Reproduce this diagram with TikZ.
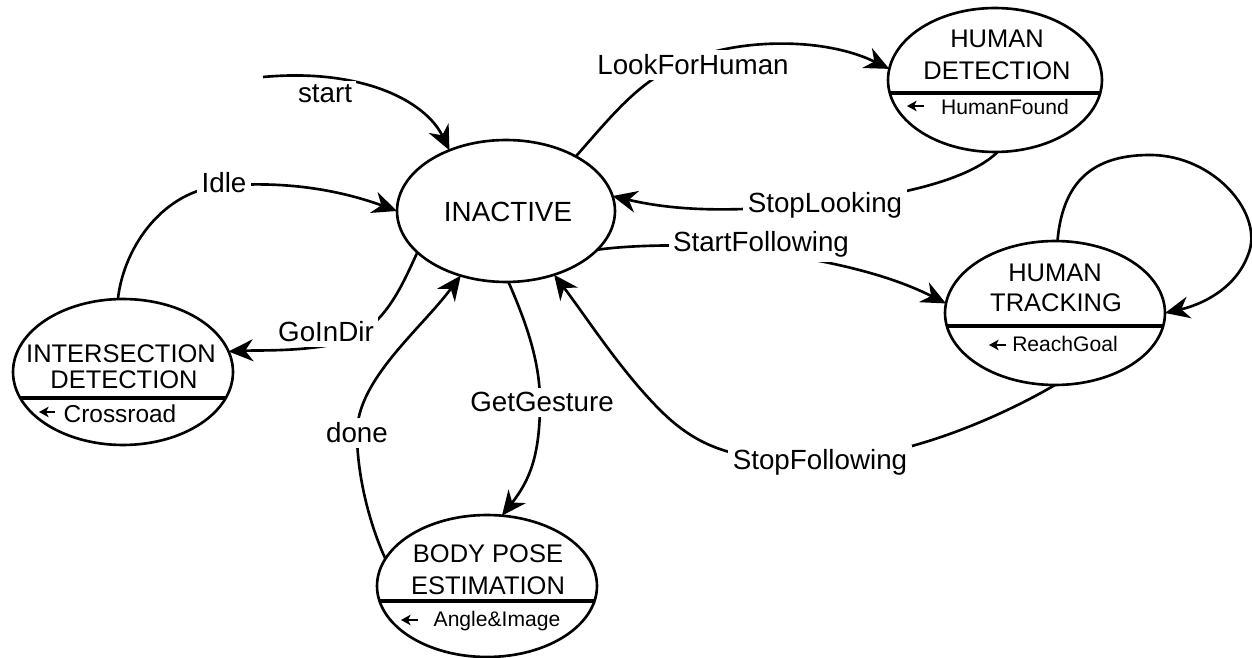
\documentclass[tikz,border=0pt]{standalone}
\usepackage{fontspec}
\setmainfont{Liberation Sans}
\usetikzlibrary{arrows.meta,shapes.geometric}
\newcommand\statefont{\fontsize{14.5}{17}\selectfont}
\newcommand\bigfont{\fontsize{15.8}{19}\selectfont}
\newcommand\subfont{\fontsize{12}{14}\selectfont}
\newcommand\crossfont{\fontsize{13.9}{16}\selectfont}
\begin{document}
\begin{tikzpicture}[x=0.02cm, y=-0.02cm,
  state/.style={draw, ellipse, line width=1.5pt, inner sep=0pt, outer sep=0pt},
  edge/.style={line width=1.5pt, -{Stealth[length=14pt,width=12.5pt,inset=4.5pt]}},
  lbl/.style={fill=white, inner sep=2.5pt, anchor=base, font=\bigfont},
  title/.style={inner sep=0pt, anchor=base, font=\statefont},
  sub/.style={inner sep=0pt, anchor=base, font=\subfont},
  divider/.style={line width=2.4pt},
  subarrow/.style={line width=1pt, -{Stealth[length=5.5pt,width=6pt,inset=1.5pt]}}
]
\useasboundingbox (0,0) rectangle (1252,658);

% states
\node[state, minimum width=4.36cm, minimum height=2.84cm] (inact) at (506,211) {};
\node[state, minimum width=4.28cm, minimum height=2.88cm] (det) at (995,80) {};
\node[state, minimum width=4.40cm, minimum height=2.88cm] (trk) at (1055,313) {};
\node[state, minimum width=4.40cm, minimum height=2.92cm] (inter) at (123,372) {};
\node[state, minimum width=4.40cm, minimum height=2.84cm] (body) at (487,586) {};

% state names
\node[title, font=\bigfont] (inact-t) at (508,222) {INACTIVE};
\node[title] (det-t1) at (997,48) {HUMAN};
\node[title] (det-t2) at (997,80) {DETECTION};
\node[title] (trk-t1) at (1055,282) {HUMAN};
\node[title] (trk-t2) at (1056,312) {TRACKING};
\node[title] (inter-t1) at (121,363) {INTERSECTION};
\node[title] (inter-t2) at (124,389) {DETECTION};
\node[title] (body-t1) at (488,563) {BODY POSE};
\node[title] (body-t2) at (488,595) {ESTIMATION};

% dividers and outgoing events
\draw[divider] (det.-7) -- (det.187);
\draw[divider] (trk.-7) -- (trk.187);
\draw[divider] (inter.-14) -- (inter.194);
\draw[divider] (body.-8) -- (body.188);

\node[sub] (det-s) at (1005,115) {HumanFound};
\node[sub] (trk-s) at (1065,352) {ReachGoal};
\node[sub, font=\crossfont] (inter-s) at (120,423) {Crossroad};
\node[sub] (body-s) at (497,627) {Angle\&Image};
\draw[subarrow] (924,106) -- (907,106);
\draw[subarrow] (1006,345) -- (989,345);
\draw[subarrow] (55,412) -- (39,412);
\draw[subarrow] (418,620) -- (401,620);

% transitions
\coordinate (s0) at (263,77);
\draw[edge] (s0) .. controls (360,68) and (425,100) .. (inact.133)
  node[lbl] (l-start) at (325,103) {start};

\draw[edge] (inact.38) .. controls (615,112) and (640,80) .. (685,62)
  .. controls (730,40) and (820,35) .. (det.174)
  node[lbl] (l-look) at (693,75) {LookForHuman};

\draw[edge] (det.-88) .. controls (975,175) and (915,195) .. (825,203)
  .. controls (740,212) and (680,212) .. (inact.8)
  node[lbl] (l-stoplook) at (825,213) {StopLooking};

\draw[edge] (inact.-23) .. controls (630,245) and (700,243) .. (752,250)
  .. controls (810,258) and (880,270) .. (trk.175)
  node[lbl] (l-startfol) at (761,252) {StartFollowing};

\draw[edge] (trk.88) .. controls (1063,175) and (1100,155) .. (1150,155)
  .. controls (1215,155) and (1265,215) .. (1248,255)
  .. controls (1235,290) and (1200,305) .. (trk.0);

\draw[edge] (trk.-90) .. controls (995,420) and (900,460) .. (820,460)
  .. controls (740,462) and (700,450) .. (660,410)
  .. controls (620,370) and (585,315) .. (inact.-53)
  node[lbl] (l-stopfol) at (820,470) {StopFollowing};

\draw[edge] (inact.205) .. controls (400,290) and (385,325) .. (345,342)
  .. controls (305,352) and (260,350) .. (inter.11)
  node[lbl] (l-go) at (326,342) {GoInDir};

\draw[edge] (inter.94) .. controls (124,245) and (165,190) .. (222,186)
  .. controls (290,180) and (345,192) .. (inact.180)
  node[lbl] (l-idle) at (224,193) {Idle};

\draw[edge] (inact.-88) .. controls (525,320) and (540,360) .. (540,402)
  .. controls (540,455) and (530,480) .. (body.78)
  node[lbl] (l-gest) at (542,412) {GetGesture};

\draw[edge] (body.165) .. controls (372,530) and (357,480) .. (357,433)
  .. controls (357,380) and (420,330) .. (inact.235)
  node[lbl] (l-done) at (357,443) {done};
\end{tikzpicture}
\end{document}
